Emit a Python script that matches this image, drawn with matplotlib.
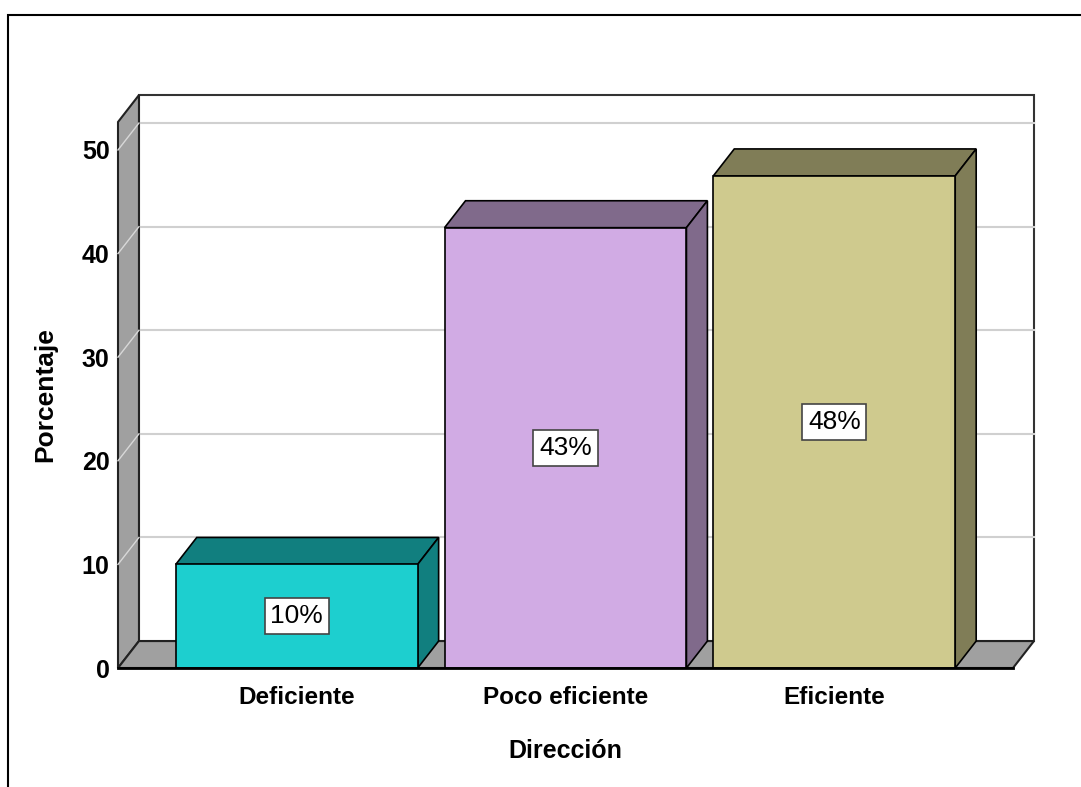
import matplotlib.pyplot as plt
from matplotlib.patches import Polygon, Rectangle

# data
categories = ['Deficiente', 'Poco eficiente', 'Eficiente']
percent = [10.0, 42.5, 47.5]
labels = ['10%', '43%', '48%']
front_colors = ['#1dcfcf', '#d1abe4', '#cfca8e']
dark_colors = ['#117f7f', '#806a8b', '#807d57']
yticks = [0, 10, 20, 30, 40, 50]

plt.rcParams['font.family'] = ['Liberation Sans', 'DejaVu Sans']

W, H = 1081, 787
fig = plt.figure(figsize=(W / 100, H / 100), dpi=100)

# outer frame
fig.patches.append(Rectangle((8 / W, -0.1), 1.2, 1.1 - 15 / H, transform=fig.transFigure,
                             fill=False, edgecolor='black', lw=1.5))

ax = fig.add_axes([118 / W, (H - 668) / H, (1013 - 118) / W, (668 - 122) / H])
x0, x1 = -0.665, 2.665
ymax = 52.7
ax.set_xlim(x0, x1)
ax.set_ylim(0, ymax)
for s in ax.spines.values():
    s.set_visible(False)

# depth offset in data units
dx, dy = 0.078, 2.6
gray = '#a0a0a0'

# back wall
ax.add_patch(Rectangle((x0 + dx, dy), x1 - x0, ymax, facecolor='white',
                       edgecolor='#333333', lw=1.5, clip_on=False, zorder=1))
for v in yticks[1:]:
    ax.plot([x0 + dx, x1 + dx], [v + dy, v + dy], color='#d0d0d0', lw=1.5,
            clip_on=False, zorder=2)

# left side wall
ax.add_patch(Polygon([(x0, 0), (x0, ymax), (x0 + dx, ymax + dy), (x0 + dx, dy)],
                     closed=True, facecolor=gray, edgecolor='#222222', lw=1.5,
                     clip_on=False, zorder=3))
for v in yticks[1:]:
    ax.plot([x0, x0 + dx], [v, v + dy], color='#d8d8d8', lw=1, clip_on=False, zorder=4)

# floor
ax.add_patch(Polygon([(x0, 0), (x1, 0), (x1 + dx, dy), (x0 + dx, dy)],
                     closed=True, facecolor=gray, edgecolor='#222222', lw=1.5,
                     clip_on=False, zorder=3))

# bars
bw = 0.9
for i, (p, fc, dc, lab) in enumerate(zip(percent, front_colors, dark_colors, labels)):
    l, r = i - bw / 2, i + bw / 2
    ax.add_patch(Polygon([(l, p), (r, p), (r + dx, p + dy), (l + dx, p + dy)],
                         closed=True, facecolor=dc, edgecolor='black', lw=1.2,
                         clip_on=False, zorder=5))
    ax.add_patch(Polygon([(r, 0), (r + dx, dy), (r + dx, p + dy), (r, p)],
                         closed=True, facecolor=dc, edgecolor='black', lw=1.2,
                         clip_on=False, zorder=5))
    ax.add_patch(Rectangle((l, 0), bw, p, facecolor=fc, edgecolor='black', lw=1.2,
                           clip_on=False, zorder=6))
    ax.text(i, p / 2, lab, ha='center', va='center', fontsize=19, zorder=7,
            bbox=dict(boxstyle='square,pad=0.22', facecolor='white',
                      edgecolor='#444444', lw=1.2))

ax.plot([x0, x1], [0, 0], color='black', lw=2, clip_on=False, zorder=7)

ax.set_yticks(yticks)
ax.set_yticklabels([str(v) for v in yticks], fontsize=18, fontweight='bold')
ax.set_xticks(range(len(categories)))
ax.set_xticklabels(categories, fontsize=17.5, fontweight='bold')
ax.tick_params(axis='y', length=0, pad=6)
ax.tick_params(axis='x', length=0, pad=13)

fig.text(45 / W, 1 - 395 / H, 'Porcentaje', rotation=90, ha='center', va='center',
         fontsize=19, fontweight='bold')
fig.text(565 / W, 1 - 751 / H, 'Dirección', ha='center', va='center',
         fontsize=18, fontweight='bold')

fig.savefig('out.png', dpi=100)
